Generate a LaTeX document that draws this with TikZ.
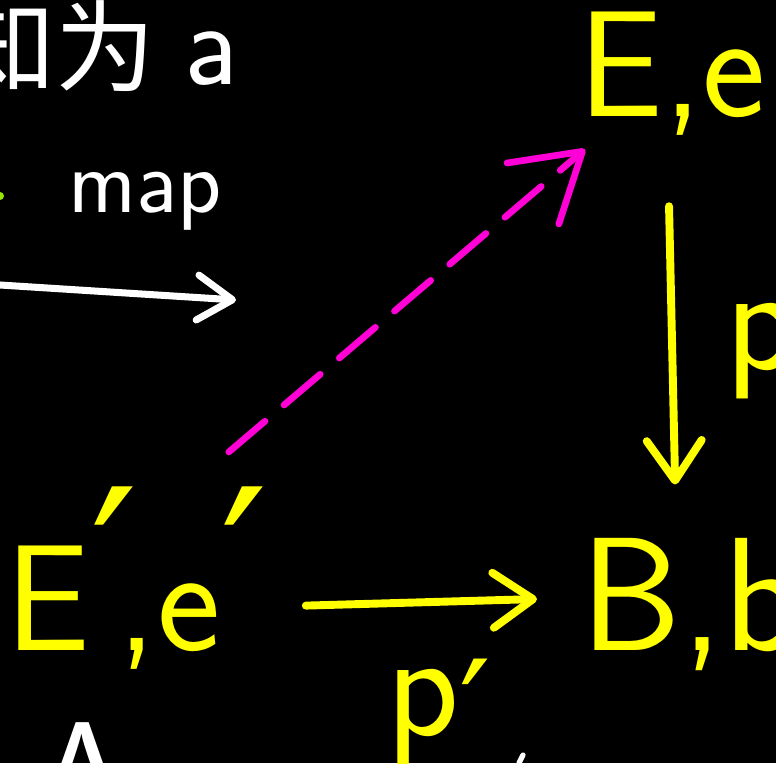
\documentclass[tikz,border=0pt]{standalone}
\usepackage{fontspec}
\newfontfamily\cjk{Noto Sans CJK SC}
\newfontfamily\symf{DejaVu Sans}
\usetikzlibrary{arrows.meta,positioning}
\definecolor{penyellow}{RGB}{255,255,0}
\definecolor{penpink}{RGB}{255,0,214}
\definecolor{pengreen}{RGB}{150,230,0}
% prime: #1 = raise, #2 = size in pt
\newcommand{\pri}[2]{\raisebox{#1}{\symf\fontsize{#2}{#2}\selectfont ′}}

\begin{document}
\begin{tikzpicture}[x=0.02cm, y=-0.02cm,
  obj/.style={font=\sffamily\fontsize{86}{90}\selectfont, text=penyellow, inner sep=0pt, anchor=base west},
  note/.style={font=\sffamily\fontsize{52}{56}\selectfont, text=white, inner sep=0pt, anchor=base west},
  pen/.style={line width=4.5pt, line cap=round, line join=round},
  yarrow/.style={pen, penyellow, -{Straight Barb[length=0.8cm, width=1.1cm, round]}},
  warrow/.style={pen, line width=4pt, white, -{Straight Barb[length=0.7cm, width=0.9cm, round]}},
  lift/.style={pen, line width=3.8pt, penpink, dash pattern=on 0.95cm off 0.5cm, -{Straight Barb[length=1.3cm, width=1.6cm, round]}}]

  % page and background
  \useasboundingbox (0,0) rectangle (776,763);
  \fill[black] (0,0) rectangle (776,763);
  \clip (0,0) rectangle (776,763);

  % white notes (cut off at the edges)
  \node[note] (zh) at (-45,85) {{\cjk\fontsize{57}{60}\selectfont 知为} {\fontsize{68}{70}\selectfont a}};
  \node[note] (map) at (68,213) {map};
  \fill[pengreen] (0,196) circle (4);
  \coordinate (mapL) at (0,285);
  \coordinate (mapR) at (236,300);
  \draw[warrow] (mapL) -- (mapR);

  % spaces
  \node[obj] (E) at (578,117) {E,e};
  \node[obj, font=\sffamily\fontsize{92}{96}\selectfont] (B) at (580,650) {B,b};
  \node[obj] (Ep) at (5,650) {E\pri{0.2cm}{120}\kern-0.4cm,e\pri{0.2cm}{120}};
  \node[obj] (p) at (725,369) {p};
  \node[obj] (pp) at (386,735) {p\pri{-0.52cm}{80}};

  % fragments at the bottom edge
  \node[note, font=\sffamily\fontsize{86}{90}\selectfont] (frag) at (35,827) {A};
  \draw[pen, line width=3pt, white] (519,763) -- (523,755);

  % maps
  \draw[yarrow] ([shift={(-3,70)}]E.south) -- ([shift={(-16,-53)}]B.north);
  \draw[yarrow] ([shift={(37,28)}]Ep.east) -- ([shift={(-43,-5)}]B.west);
  \draw[lift] ([shift={(-40,-34)}]Ep.north east) -- ([shift={(7,13)}]E.south west);

\end{tikzpicture}
\end{document}
